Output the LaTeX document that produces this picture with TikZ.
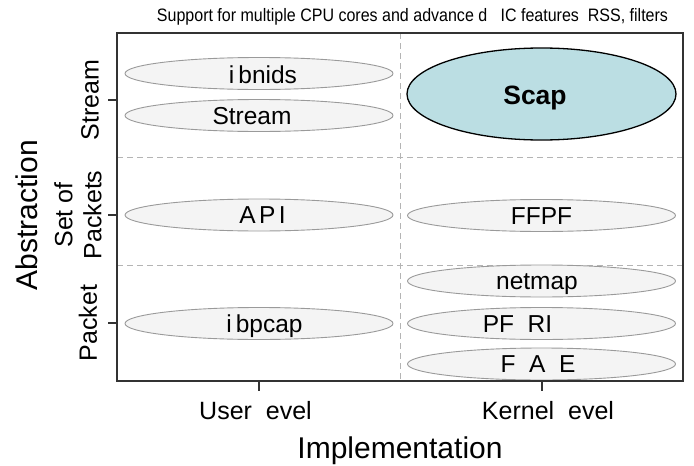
\documentclass[tikz,border=0pt]{standalone}
\usepackage{fontspec}
\setmainfont{Liberation Sans}
\newfontfamily\titlefont[FakeStretch=0.89]{Liberation Sans}
\usetikzlibrary{shapes.geometric}
\definecolor{ovalfill}{HTML}{F4F4F4}
\definecolor{ovaldraw}{HTML}{9A9A9A}
\definecolor{scapfill}{HTML}{BBDEE3}
\definecolor{gridgray}{HTML}{B4B4B4}
\definecolor{framegray}{HTML}{333333}
\begin{document}
\begin{tikzpicture}[x=1pt,y=-1pt,
  oval/.style={ellipse, draw=ovaldraw, fill=ovalfill, line width=0.9pt,
    minimum width=268pt, minimum height=32pt, inner sep=0pt},
  scapoval/.style={ellipse, draw=black, fill=scapfill, line width=1.3pt,
    minimum width=269pt, minimum height=92pt, inner sep=0pt},
  otext/.style={inner sep=0pt, text height=17.6pt, text depth=0pt,
    font=\fontsize{24.5}{24.5}\selectfont},
  scaptext/.style={inner sep=0pt, text height=19pt, text depth=0pt,
    font=\fontsize{26.5}{26.5}\selectfont\bfseries},
  grid/.style={draw=gridgray, line width=0.9pt, dash pattern=on 6pt off 4pt},
  frame/.style={draw=framegray, line width=1.3pt},
  tick/.style={draw=framegray, line width=1.1pt},
  ticklab/.style={inner sep=0pt, text height=17.9pt, text depth=0pt,
    font=\fontsize{25}{29}\selectfont},
  rowlab/.style={inner sep=0pt, font=\fontsize{25}{29}\selectfont},
  axlab/.style={inner sep=0pt, text height=21.5pt, text depth=0pt,
    font=\fontsize{30}{30}\selectfont},
  abslab/.style={inner sep=0pt, font=\fontsize{30}{30}\selectfont},
  titlelab/.style={inner sep=0pt, text height=13pt, text depth=0pt,
    font=\fontsize{18}{18}\titlefont}]
\useasboundingbox (0,0) rectangle (694,466);
% grid
\draw[grid] (400,33) -- (400,381);
\draw[grid] (117,157) -- (683,157);
\draw[grid] (117,265) -- (683,265);
% ovals
\node[oval] (ibnids) at (259,73.5) {};
\node[oval] (stream) at (259,115.5) {};
\node[scapoval] (scap) at (541.5,94) {};
\node[oval] (api) at (259,215) {};
\node[oval] (ffpf) at (541.5,215.5) {};
\node[oval] (netmap) at (541.5,281) {};
\node[oval] (pfri) at (541.5,323.5) {};
\node[oval] (fae) at (541.5,364) {};
\node[oval] (ibpcap) at (259,323.5) {};
% oval texts
\node[otext] (ibnidst) at (263,74.5) {{\spaceskip=4pt i bnids}};
\node[otext] (streamt) at (252,115.5) {Stream};
\node[scaptext] (scapt) at (535,95) {Scap};
\node[otext] (apit) at (262.5,215) {{\spaceskip=3.5pt A P I}};
\node[otext] (ffpft) at (541.5,215.5) {FFPF};
\node[otext] (netmapt) at (537,281) {netmap};
\node[otext] (pfrit) at (517.5,323.5) {PF\ \ RI};
\node[otext] (faet) at (538,364) {F\ \ A\ \ E};
\node[otext] (ibpcapt) at (264.5,324) {{\spaceskip=4pt i bpcap}};
% frame and ticks
\draw[frame] (117,33) rectangle (683,381);
\draw[tick] (108,100) -- (117,100);
\draw[tick] (108,215) -- (117,215);
\draw[tick] (108,323) -- (117,323);
\draw[tick] (259,381) -- (259,391);
\draw[tick] (542,381) -- (542,391);
% labels
\node[titlelab] (title) at (412.5,15) {Support for multiple CPU cores and advance d\ \ \ IC features\ \ RSS, filters};
\node[ticklab] (user) at (255.5,410.5) {User\ \ evel};
\node[ticklab] (kernel) at (548,410.5) {Kernel\ \ evel};
\node[axlab] (impl) at (400,447.5) {Implementation};
\node[abslab, rotate=90] (abs) at (27,215) {Abstraction};
\node[rowlab, rotate=90] (rstream) at (90,100) {Stream};
\node[rowlab, rotate=90, align=center] (rset) at (78,215) {Set of\\Packets};
\node[rowlab, rotate=90] (rpacket) at (88,323) {Packet};
\end{tikzpicture}
\end{document}
